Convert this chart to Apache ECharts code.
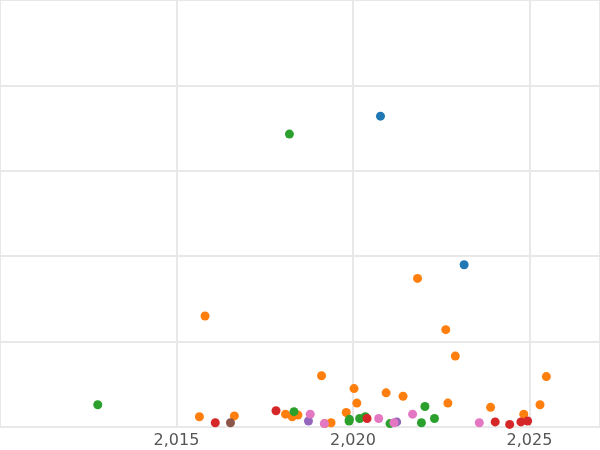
<!DOCTYPE html><html><head><meta charset="utf-8"><script src="https://cdn.jsdelivr.net/npm/echarts@6/dist/echarts.min.js"></script>
<style>html,body{margin:0;padding:0;background:#fff}#c{width:600px;height:450px}</style></head><body><div id="c"></div><script>
const blue=[[2020.78,3.64],[2023.15,1.90]];
const green=[[2012.77,0.26],[2018.2,3.43],[2018.33,0.18],[2019.89,0.07],[2019.9,0.09],[2020.19,0.1],[2020.35,0.12],[2021.05,0.04],[2021.94,0.05],[2022.04,0.24],[2022.31,0.1]];
const orange=[[2015.81,1.30],[2015.65,0.12],[2016.64,0.13],[2018.09,0.15],[2018.28,0.12],[2018.44,0.14],[2019.11,0.60],[2019.38,0.05],[2019.2,0.04],[2019.81,0.17],[2020.03,0.45],[2020.11,0.28],[2020.94,0.40],[2021.42,0.36],[2021.83,1.74],[2022.63,1.14],[2022.69,0.28],[2022.9,0.83],[2023.9,0.23],[2024.84,0.15],[2025.3,0.26],[2025.48,0.59]];
const red=[[2016.1,0.05],[2017.82,0.19],[2020.4,0.1],[2024.03,0.06],[2024.44,0.03],[2024.76,0.06],[2024.95,0.07]];
const purple=[[2018.74,0.07],[2021.24,0.06]];
const brown=[[2016.53,0.05]];
const pink=[[2018.79,0.15],[2019.19,0.04],[2020.73,0.1],[2021.69,0.15],[2021.16,0.05],[2023.58,0.05]];
const groups=[[blue,'#1f77b4'],[orange,'#ff7f0e'],[green,'#2ca02c'],[red,'#d62728'],[purple,'#9467bd'],[brown,'#8c564b'],[pink,'#e377c2']];
const ch=echarts.init(document.getElementById('c'));
ch.setOption({animation:false,grid:{left:-29,right:-3,top:-43,bottom:23},
xAxis:{type:'value',min:2010,max:2027,interval:5,axisLine:{show:false},axisTick:{show:false},
 axisLabel:{color:'#555',fontSize:16,fontFamily:'DejaVu Sans',margin:6,showMinLabel:false,showMaxLabel:false},
 splitLine:{lineStyle:{color:'#e8e8e8',width:2}}},
yAxis:{type:'value',min:0,max:5,interval:1,axisLine:{show:false},axisTick:{show:false},axisLabel:{show:false},splitLine:{lineStyle:{color:'#e8e8e8',width:2}}},
series:groups.map(([d,c])=>({type:'scatter',data:d,symbolSize:9,itemStyle:{color:c,opacity:1}}))});
</script></body></html>
